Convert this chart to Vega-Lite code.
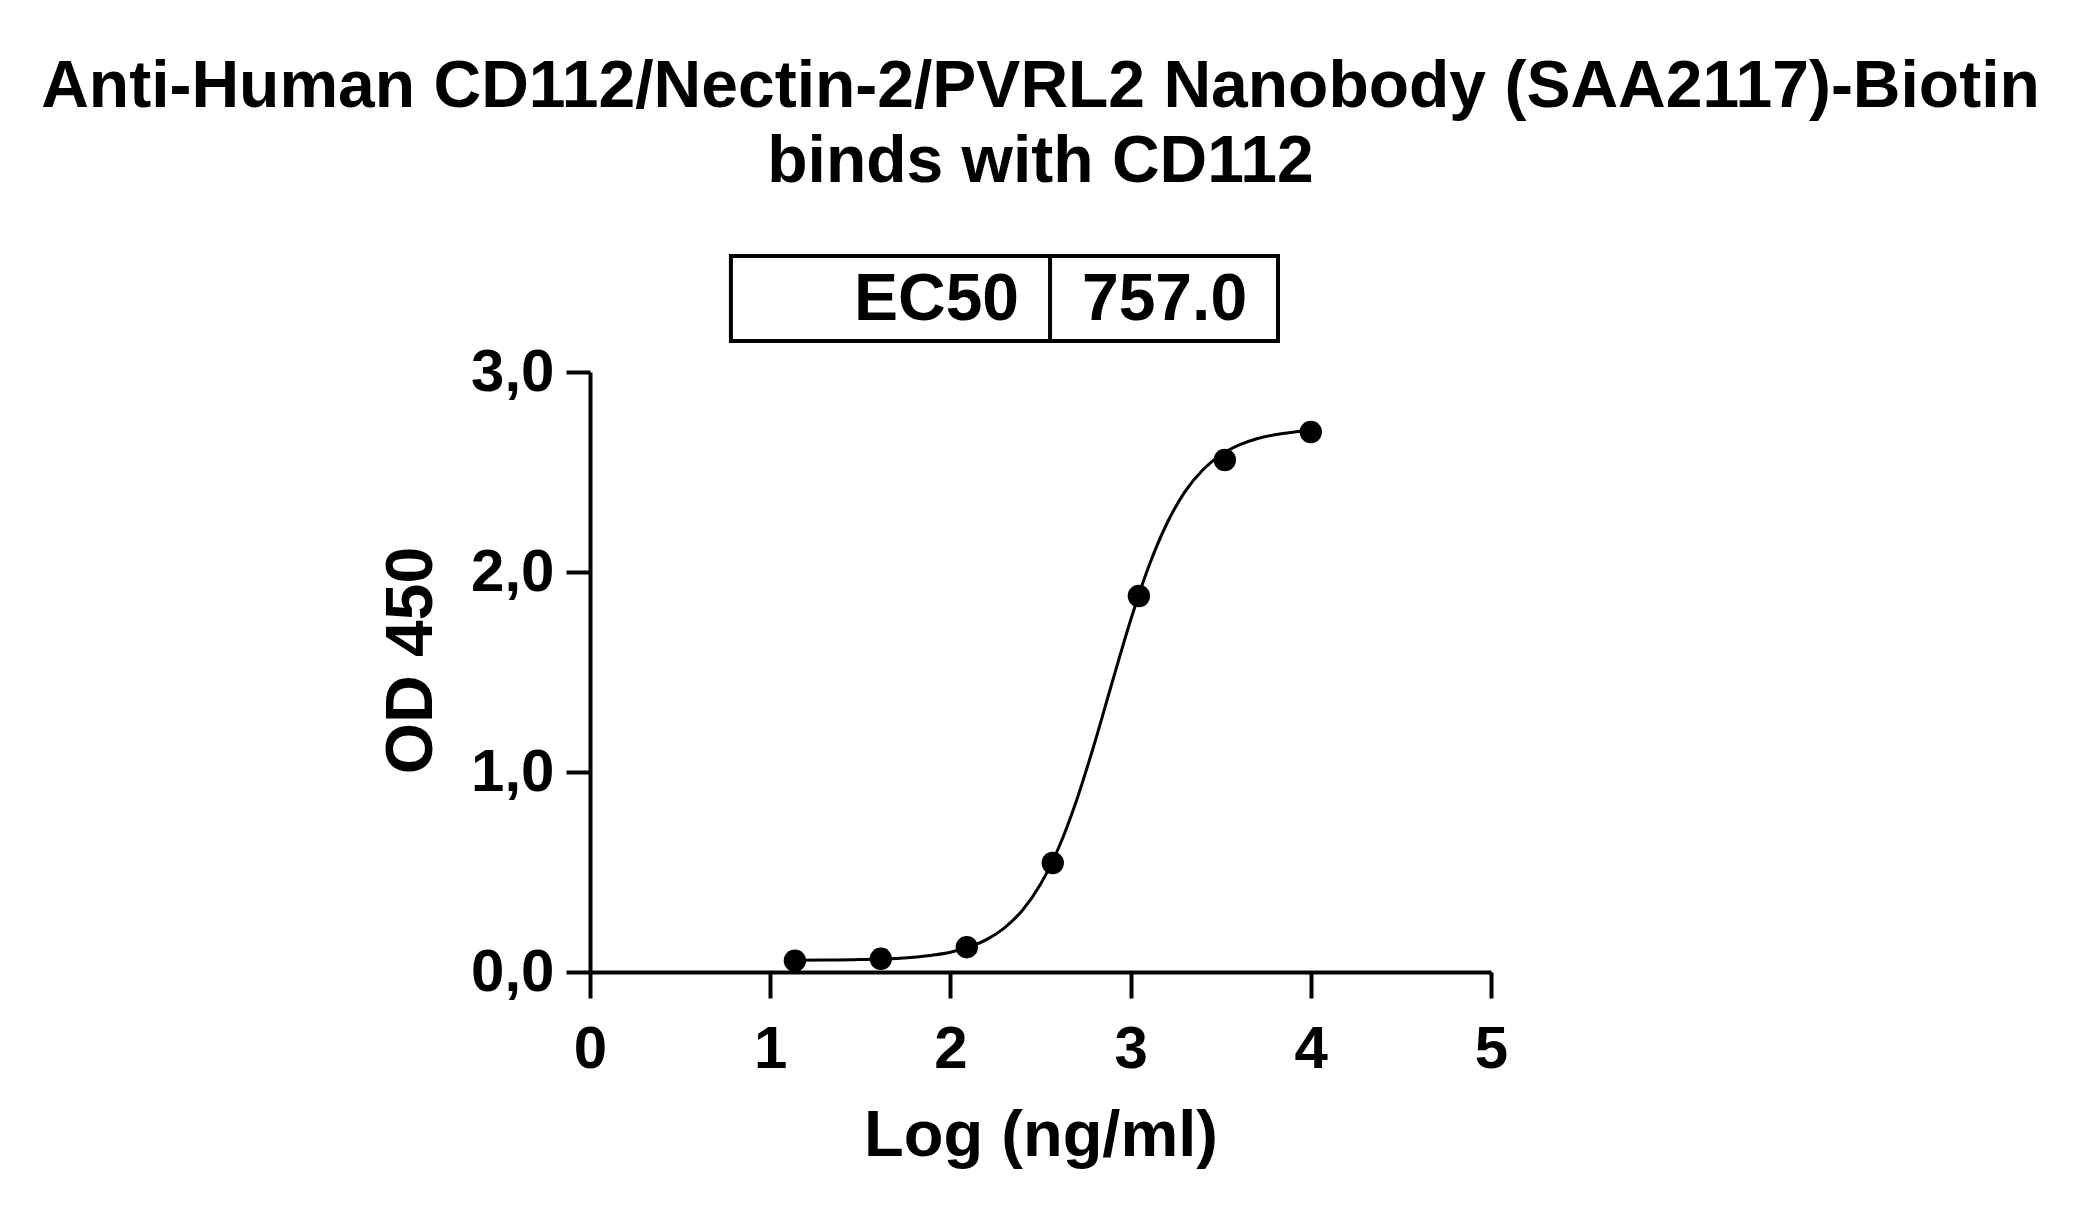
{
  "$schema": "https://vega.github.io/schema/vega-lite/v6.json",
  "width": 901,
  "height": 600,
  "autosize": {"type": "none"},
  "padding": {"left": 590, "top": 372, "right": 590, "bottom": 247},
  "background": "white",
  "title": {
    "text": ["Anti-Human CD112/Nectin-2/PVRL2 Nanobody (SAA2117)-Biotin", "binds with CD112"],
    "font": "Liberation Sans",
    "fontSize": 66,
    "fontWeight": "bold",
    "color": "black",
    "anchor": "middle",
    "frame": "group",
    "lineHeight": 75,
    "baseline": "alphabetic",
    "offset": 6
  },
  "datasets": {
    "box": [{"x": 0.782, "x2": 3.818, "y": 3.155, "y2": 3.58}],
    "divider": [{"x": 2.553, "y": 3.155, "y2": 3.58}],
    "labels": [
      {"x": 2.381, "y": 3.26, "label": "EC50", "side": "left"},
      {"x": 2.73, "y": 3.26, "label": "757.0", "side": "right"}
    ],
    "curve": [
      {"x": 1.137, "y": 0.0587}, {"x": 1.3, "y": 0.0595}, {"x": 1.5, "y": 0.062},
      {"x": 1.7, "y": 0.068}, {"x": 1.9, "y": 0.084}, {"x": 2.0, "y": 0.099},
      {"x": 2.1, "y": 0.124}, {"x": 2.2, "y": 0.162}, {"x": 2.3, "y": 0.221},
      {"x": 2.4, "y": 0.309}, {"x": 2.5, "y": 0.439}, {"x": 2.6, "y": 0.62},
      {"x": 2.7, "y": 0.858}, {"x": 2.8, "y": 1.144}, {"x": 2.9, "y": 1.455},
      {"x": 3.0, "y": 1.759}, {"x": 3.1, "y": 2.026}, {"x": 3.2, "y": 2.24},
      {"x": 3.3, "y": 2.399}, {"x": 3.4, "y": 2.51}, {"x": 3.5, "y": 2.585},
      {"x": 3.6, "y": 2.634}, {"x": 3.7, "y": 2.666}, {"x": 3.8, "y": 2.686},
      {"x": 3.9, "y": 2.699}, {"x": 4.0, "y": 2.707}
    ],
    "points": [
      {"x": 1.137, "y": 0.057}, {"x": 1.614, "y": 0.066}, {"x": 2.091, "y": 0.124},
      {"x": 2.568, "y": 0.545}, {"x": 3.046, "y": 1.88}, {"x": 3.523, "y": 2.56},
      {"x": 4.0, "y": 2.70}
    ]
  },
  "encoding": {
    "x": {
      "field": "x",
      "type": "quantitative",
      "scale": {"domain": [0, 5], "nice": false, "zero": false},
      "axis": {
        "title": "Log (ng/ml)",
        "values": [0, 1, 2, 3, 4, 5],
        "format": "d",
        "grid": false,
        "domainColor": "black",
        "domainWidth": 4,
        "tickColor": "black",
        "tickWidth": 4,
        "tickSize": 26,
        "labelFont": "Liberation Sans",
        "labelFontSize": 60,
        "labelFontWeight": "bold",
        "labelColor": "black",
        "labelPadding": 22,
        "labelFlush": false,
        "titleFont": "Liberation Sans",
        "titleFontSize": 65,
        "titleFontWeight": "bold",
        "titleColor": "black",
        "titlePadding": 25
      }
    },
    "y": {
      "field": "y",
      "type": "quantitative",
      "scale": {"domain": [0, 3], "nice": false, "zero": false},
      "axis": {
        "title": "OD 450",
        "titleY": 288,
        "values": [0, 1, 2, 3],
        "labelExpr": "replace(format(datum.value, '.1f'), '.', ',')",
        "grid": false,
        "domainColor": "black",
        "domainWidth": 4,
        "tickColor": "black",
        "tickWidth": 4,
        "tickSize": 24,
        "labelFont": "Liberation Sans",
        "labelFontSize": 60,
        "labelFontWeight": "bold",
        "labelColor": "black",
        "labelPadding": 12,
        "labelFlush": false,
        "titleFont": "Liberation Sans",
        "titleFontSize": 66,
        "titleFontWeight": "bold",
        "titleColor": "black",
        "titlePadding": 25
      }
    }
  },
  "layer": [
    {
      "data": {"name": "box"},
      "mark": {"type": "rect", "fill": "white", "stroke": "black", "strokeWidth": 4},
      "encoding": {
        "x2": {"field": "x2"},
        "y2": {"field": "y2"}
      }
    },
    {
      "data": {"name": "divider"},
      "mark": {"type": "rule", "color": "black", "strokeWidth": 4},
      "encoding": {
        "y2": {"field": "y2"}
      }
    },
    {
      "data": {"name": "labels"},
      "transform": [{"filter": "datum.side === 'left'"}],
      "mark": {"type": "text", "align": "right", "baseline": "alphabetic", "font": "Liberation Sans", "fontSize": 66, "fontWeight": "bold", "color": "black"},
      "encoding": {"text": {"field": "label"}}
    },
    {
      "data": {"name": "labels"},
      "transform": [{"filter": "datum.side === 'right'"}],
      "mark": {"type": "text", "align": "left", "baseline": "alphabetic", "font": "Liberation Sans", "fontSize": 66, "fontWeight": "bold", "color": "black"},
      "encoding": {"text": {"field": "label"}}
    },
    {
      "data": {"name": "curve"},
      "mark": {"type": "line", "color": "black", "strokeWidth": 3, "interpolate": "monotone"},
      "encoding": {}
    },
    {
      "data": {"name": "points"},
      "mark": {"type": "point", "filled": true, "color": "black", "opacity": 1, "size": 500, "shape": "circle"},
      "encoding": {}
    }
  ],
  "config": {"view": {"stroke": null}}
}
